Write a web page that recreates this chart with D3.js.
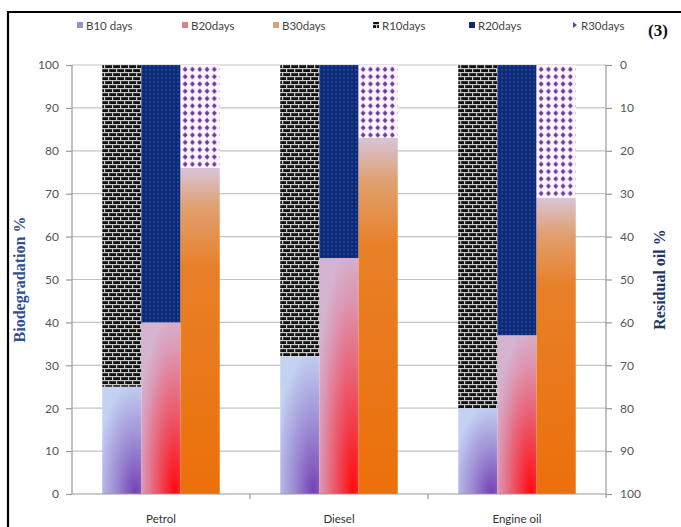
<!DOCTYPE html>
<html>
<head>
<meta charset="utf-8">
<script src="https://cdn.jsdelivr.net/npm/d3@7"></script>
<style>
  html, body { margin: 0; padding: 0; background: #fff; }
  svg { display: block; }
</style>
</head>
<body>
<svg id="chart" width="681" height="527"></svg>
<script>
// Biodegradation (%) per oil type after 10, 20 and 30 days,
// with the residual oil (%) stacked on top and read from the right axis.
const categories = ["Petrol", "Diesel", "Engine oil"];
const days = ["10", "20", "30"];
const bio10 = [25, 32, 20];
const bio20 = [40, 55, 37];
const bio30 = [76, 83, 69];
const res10 = [75, 68, 80];
const res20 = [60, 45, 63];
const res30 = [24, 17, 31];
const leftTicks = [0, 10, 20, 30, 40, 50, 60, 70, 80, 90, 100];
const rightTicks = [0, 10, 20, 30, 40, 50, 60, 70, 80, 90, 100];
const legendLabels = ["B10 days", "B20days", "B30days", "R10days", "R20days", "R30days"];

const bio = [bio10, bio20, bio30];
const res = [res10, res20, res30];

const svg = d3.select("#chart");
const defs = svg.append("defs");

const plot = { left: 72, right: 606, top: 65, bottom: 494 };

const x0 = d3.scaleBand().domain(categories).range([plot.left, plot.right]);
const groupW = x0.bandwidth() * 0.66;
const x1 = d3.scaleBand().domain(days)
  .range([(x0.bandwidth() - groupW) / 2, (x0.bandwidth() + groupW) / 2]);
const yL = d3.scaleLinear().domain([0, 100]).range([plot.bottom, plot.top]);
const yR = d3.scaleLinear().domain([0, 100]).range([plot.top, plot.bottom]);

// ---- fills ----
function radial(id, stops) {
  const g = defs.append("radialGradient").attr("id", id)
    .attr("cx", 0.85).attr("cy", 1).attr("r", 1.05).attr("fx", 0.85).attr("fy", 1);
  stops.forEach(s => g.append("stop").attr("offset", s[0]).attr("stop-color", s[1]));
}
radial("gB10", [[0, "#7440b4"], [0.45, "#9a88d2"], [1, "#c4d2f2"]]);
radial("gB20", [[0, "#ff0a0a"], [0.35, "#f04858"], [0.8, "#dc98b4"], [1, "#d4b4d0"]]);
const gB30 = defs.append("linearGradient").attr("id", "gB30")
  .attr("x1", 0).attr("y1", 0).attr("x2", 0).attr("y2", 1);
[[0, "#d8c4d8"], [0.12, "#e0a070"], [0.3, "#e88028"], [1, "#ec700a"]]
  .forEach(s => gB30.append("stop").attr("offset", s[0]).attr("stop-color", s[1]));

// brick pattern
const pBrick = defs.append("pattern").attr("id", "pR10")
  .attr("patternUnits", "userSpaceOnUse").attr("width", 8).attr("height", 8);
pBrick.append("rect").attr("width", 8).attr("height", 8).attr("fill", "#111");
pBrick.append("rect").attr("x", 0).attr("y", 0).attr("width", 8).attr("height", 1.2).attr("fill", "#c9c9c9");
pBrick.append("rect").attr("x", 0).attr("y", 4).attr("width", 8).attr("height", 1.2).attr("fill", "#c9c9c9");
pBrick.append("rect").attr("x", 0).attr("y", 0).attr("width", 1.2).attr("height", 4).attr("fill", "#c9c9c9");
pBrick.append("rect").attr("x", 4).attr("y", 4).attr("width", 1.2).attr("height", 4).attr("fill", "#c9c9c9");

// navy dotted pattern
const pNavy = defs.append("pattern").attr("id", "pR20")
  .attr("patternUnits", "userSpaceOnUse").attr("width", 4).attr("height", 4);
pNavy.append("rect").attr("width", 4).attr("height", 4).attr("fill", "#0d2a78");
pNavy.append("circle").attr("cx", 2).attr("cy", 2).attr("r", 0.8).attr("fill", "#3a62b4");

// purple diamond pattern
const pDia = defs.append("pattern").attr("id", "pR30")
  .attr("patternUnits", "userSpaceOnUse").attr("width", 7.3).attr("height", 7.3);
pDia.append("rect").attr("width", 7.3).attr("height", 7.3).attr("fill", "#fdf4fd");
pDia.append("path").attr("d", "M3.65,1 L6.1,3.65 L3.65,6.3 L1.2,3.65 Z").attr("fill", "#6a3c9c");

const bioFill = ["url(#gB10)", "url(#gB20)", "url(#gB30)"];
const resFill = ["url(#pR10)", "url(#pR20)", "url(#pR30)"];

// ---- frame ----
svg.append("path").attr("d", "M8,527 L8,12 L681,12")
  .attr("fill", "none").attr("stroke", "#000").attr("stroke-width", 2.2);

// ---- gridlines ----
svg.append("g").selectAll("line").data(leftTicks.filter(d => d > 0)).join("line")
  .attr("x1", plot.left).attr("x2", plot.right)
  .attr("y1", d => yL(d)).attr("y2", d => yL(d))
  .attr("stroke", "#c4c4c4").attr("stroke-width", 1.2);

// ---- bars ----
categories.forEach((c, ci) => {
  const g = svg.append("g").attr("transform", `translate(${x0(c)},0)`);
  days.forEach((d, di) => {
    const bx = x1(d), bw = x1.bandwidth();
    g.append("rect").attr("x", bx).attr("width", bw)
      .attr("y", yL(bio[di][ci])).attr("height", plot.bottom - yL(bio[di][ci]))
      .attr("fill", bioFill[di]);
    g.append("rect").attr("x", bx).attr("width", bw)
      .attr("y", yR(0)).attr("height", yR(res[di][ci]) - yR(0))
      .attr("fill", resFill[di]);
  });
});

// ---- axes ----
const axisColor = "#9a9a9a";
const tickFont = "Lato, 'Open Sans', sans-serif";

const leftAxis = svg.append("g").attr("transform", `translate(${plot.left},0)`)
  .call(d3.axisLeft(yL).tickValues(leftTicks).tickSize(6).tickPadding(7));
const rightAxis = svg.append("g").attr("transform", `translate(${plot.right},0)`)
  .call(d3.axisRight(yR).tickValues(rightTicks).tickSize(6).tickPadding(8));
const bottomAxis = svg.append("g").attr("transform", `translate(0,${plot.bottom})`)
  .call(d3.axisBottom(x0).tickSize(0).tickPadding(21));
// category separators
svg.append("g").selectAll("line").data(categories.slice(0, -1)).join("line")
  .attr("x1", d => x0(d) + x0.bandwidth()).attr("x2", d => x0(d) + x0.bandwidth())
  .attr("y1", plot.bottom).attr("y2", plot.bottom + 5)
  .attr("stroke", axisColor).attr("stroke-width", 1.2);

[leftAxis, rightAxis, bottomAxis].forEach(a => {
  a.select(".domain").attr("stroke", axisColor).attr("stroke-width", 1.2);
  a.selectAll(".tick line").attr("stroke", axisColor).attr("stroke-width", 1.2);
  a.selectAll("text").attr("font-family", tickFont).attr("font-size", 12).attr("fill", "#555");
});
leftAxis.select(".domain").attr("d", `M0,${plot.top}V${plot.bottom}`);
rightAxis.select(".domain").attr("d", `M0,${plot.top}V${plot.bottom + 4}`);
bottomAxis.select(".domain").attr("d", `M${plot.left},0H${plot.right}`);
bottomAxis.selectAll("text").attr("font-size", 11.5).attr("fill", "#333");

// ---- axis titles ----
svg.append("text")
  .attr("transform", `translate(25,${(plot.top + plot.bottom) / 2}) rotate(-90)`)
  .attr("text-anchor", "middle")
  .attr("font-family", "'Liberation Serif', 'Times New Roman', serif")
  .attr("font-weight", "bold").attr("font-size", 16).attr("fill", "#30508e")
  .text("Biodegradation %");
svg.append("text")
  .attr("transform", `translate(665,${(plot.top + plot.bottom) / 2}) rotate(-90)`)
  .attr("text-anchor", "middle")
  .attr("font-family", "'Liberation Serif', 'Times New Roman', serif")
  .attr("font-weight", "bold").attr("font-size", 16).attr("fill", "#1f3768")
  .text("Residual oil %");

// ---- legend ----
const legendX = [77, 182, 273, 373, 469, 572];
const legendSwatch = ["#9b90c9", "#dc7f8e", "#d9a274", "url(#pR10)", "#0d2a78", null];
const legend = svg.append("g");
legendLabels.forEach((lab, i) => {
  const gx = legendX[i];
  if (legendSwatch[i]) {
    legend.append("rect").attr("x", gx).attr("y", 22).attr("width", 6).attr("height", 6)
      .attr("fill", legendSwatch[i]);
  } else {
    legend.append("path").attr("d", `M${gx + 1},22 L${gx + 5},25 L${gx + 1},28 Z`).attr("fill", "#6a3c9c");
  }
  legend.append("text").attr("x", gx + 9).attr("y", 29.5)
    .attr("font-family", tickFont).attr("font-size", 11.5).attr("fill", "#444")
    .text(lab);
});
svg.append("text").attr("x", 648).attr("y", 36)
  .attr("font-family", "'Liberation Serif', 'Times New Roman', serif")
  .attr("font-weight", "bold").attr("font-size", 17).attr("fill", "#111")
  .text("(3)");
</script>
</body>
</html>
